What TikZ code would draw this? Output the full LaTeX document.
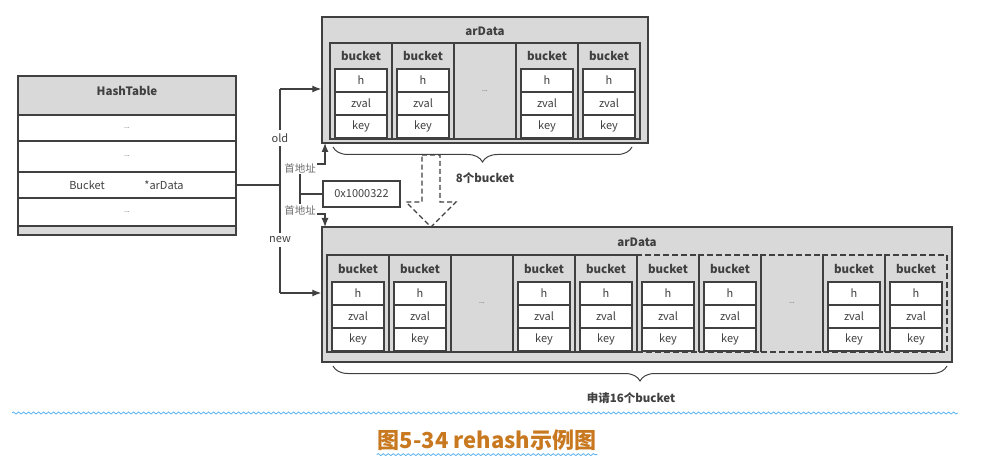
\documentclass[tikz,border=0pt]{standalone}
\usepackage{fontspec}
\setmainfont{Noto Sans CJK SC}
\usetikzlibrary{arrows.meta,decorations.pathreplacing,decorations.pathmorphing}
\definecolor{boxgray}{RGB}{217,217,217}
\definecolor{ink}{RGB}{64,64,64}
\definecolor{soft}{RGB}{110,110,110}
\definecolor{wavy}{RGB}{95,180,240}
\definecolor{capt}{RGB}{200,120,30}

\begin{document}
\begin{tikzpicture}[x=1pt,y=-1pt,
  every node/.style = {font=\fontsize{11}{13}\selectfont,text=ink},
  line/.style = {draw=ink,line width=1.2pt},
  arr/.style = {line,-{Latex[length=9pt,width=7pt]}},
  head/.style = {font=\fontsize{11.5}{13}\selectfont\bfseries},
  htrow/.style = {line,fill=white,minimum width=218pt,inner sep=0pt},
  htgray/.style = {line,fill=boxgray,minimum width=218pt,inner sep=0pt},
  bigbox/.style = {line,line width=1.5pt,fill=boxgray,inner sep=0pt},
  col/.style = {line,minimum width=62pt,inner sep=0pt},
  dcol/.style = {col,dash pattern=on 6pt off 3pt,line width=1.4pt},
  field/.style = {line,fill=white,minimum width=52pt,minimum height=23pt,inner sep=0pt},
  dots/.style = {font=\fontsize{7}{8}\selectfont},
  addr/.style = {font=\fontsize{10.5}{12}\selectfont,text=soft,inner sep=1pt},
  wave/.style = {draw=wavy,line width=0.8pt,decorate,
    decoration={snake,segment length=5pt,amplitude=1pt}}]
\useasboundingbox (0,0) rectangle (987,470);

% HashTable
\node[htgray,minimum height=39pt] (ht) at (127,95.5) {};
\node[head] at (127,91) {HashTable};
\node[htrow,minimum height=26pt,line width=1.6pt,dots] (r1) at (127,128) {...};
\node[htrow,minimum height=31pt,dots] (r2) at (127,156.5) {...};
\node[htrow,minimum height=26pt] (r3) at (127,185) {};
\node at (87,185) {Bucket};
\node at (164,185) {*arData};
\node[htrow,minimum height=28pt,dots] (r4) at (127,212) {...};
\node[htgray,minimum height=9pt] (r5) at (127,230.5) {};

% old arData
\node[bigbox,minimum width=326pt,minimum height=126pt] (oldarr) at (485,80) {};
\node[head] at (485,31) {arData};
\foreach \i in {0,1,3,4} {
  \node[col,minimum height=96pt] (o\i) at (361+62*\i,91) {};
  \node[head] at (361+62*\i,56) {bucket};
  \node[field] at (361+62*\i,80.5) {h};
  \node[field] at (361+62*\i,103.5) {zval};
  \node[field] at (361+62*\i,126.5) {key};
}
\node[col,minimum height=96pt,dots] (o2) at (485,91) {...};

% new arData
\node[bigbox,minimum width=630pt,minimum height=135pt] (newarr) at (637,294.5) {};
\node[head] at (637,242) {arData};
\foreach \i/\s in {0/col,1/col,3/col,4/col,5/dcol,6/dcol,8/dcol,9/dcol} {
  \node[\s,minimum height=97pt] (n\i) at (358+62*\i,303.5) {};
  \node[head] at (358+62*\i,269) {bucket};
  \node[field] at (358+62*\i,293.5) {h};
  \node[field] at (358+62*\i,316.5) {zval};
  \node[field] at (358+62*\i,339.5) {key};
}
\node[col,minimum height=97pt,dots] (n2) at (482,303.5) {...};
\node[dcol,minimum height=97pt,dots] (n7) at (792,303.5) {...};

% pointer old / new
\node (old) at (280,138) {old};
\node (new) at (280,240) {new};
\coordinate (j) at (280,185);
\coordinate (ot) at (280,89);
\coordinate (nb) at (280,293);
\draw[line] (r3.east) -- (j);
\draw[line] (ot) -- (old) -- (new) -- (nb);
\draw[arr] (ot) -- (ot -| oldarr.west);
\draw[arr] (nb) -- (nb -| newarr.west);

% first address
\node[addr] (a1) at (300,168) {首地址};
\node[addr] (a2) at (300,210) {首地址};
\node[line,minimum width=77pt,minimum height=26pt,inner sep=0pt] (ptr) at (361.5,194) {0x1000322};
\coordinate (a1t) at (325,143);
\coordinate (a2t) at (325,227);
\draw[line] (a1) -- (a2);
\draw[line] (ptr.west -| a1) -- (ptr.west);
\draw[arr] ([yshift=4pt]a1.east) -| (a1t);
\draw[arr] ([yshift=-4pt]a2.east) -| (a2t);

% rehash arrow
\draw[line,dash pattern=on 5pt off 3pt] (422,155) -- (440,155) -- (440,202) -- (456,202)
  -- (431,227) -- (406,202) -- (422,202) -- cycle;

% braces
\coordinate (b1) at (632,147);
\coordinate (b2) at (333,147);
\coordinate (b3) at (947,366);
\coordinate (b4) at (333,366);
\draw[line,line width=1pt,decorate,decoration={brace,amplitude=15pt}] (b1) -- (b2);
\draw[line,line width=1pt,decorate,decoration={brace,amplitude=15pt}] (b3) -- (b4);
\node[head] (c8) at (485,178) {8个bucket};
\node[head] (c16) at (631,398) {申请16个bucket};

% caption
\coordinate (w1) at (12,413);
\coordinate (w2) at (958,413);
\draw[wave] (w1) -- (w2);
\node[font=\fontsize{22}{26}\selectfont\bfseries,text=capt,inner sep=1pt] (cap) at (487,440) {图5-34 rehash示例图};
\draw[wave] ([yshift=-3pt]cap.south west) -- ([yshift=-3pt]cap.south east);
\end{tikzpicture}
\end{document}
